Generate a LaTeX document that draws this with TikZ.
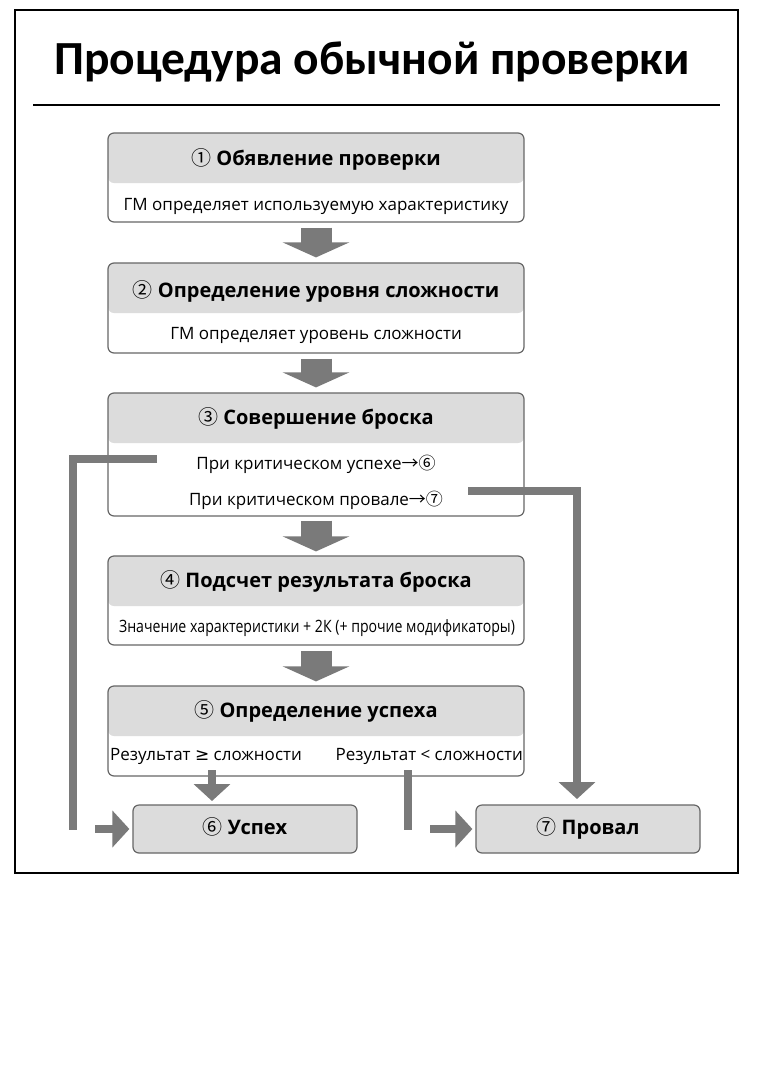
\documentclass[tikz,border=0pt]{standalone}
\usepackage{fontspec}
\setmainfont{Open Sans}
\newfontfamily\titlefont{Carlito}
\newfontfamily\symfont{Noto Sans CJK JP}
\newfontfamily\mathsym{DejaVu Sans}
\usetikzlibrary{arrows.meta}

\definecolor{headgray}{HTML}{DCDCDC}
\definecolor{boxgray}{HTML}{666666}
\definecolor{arrowgray}{HTML}{7A7A7A}

\newcommand\cnum[1]{{\symfont\mdseries #1}}

\tikzset{
  stepbox/.style={draw=boxgray, line width=1.2pt, rounded corners=6pt,
    minimum width=416pt, minimum height=#1, inner sep=0pt,
    path picture={\fill[headgray] (path picture bounding box.north west)
      rectangle ([yshift=-50pt]path picture bounding box.north east);}},
  endbox/.style={draw=boxgray, line width=1.2pt, rounded corners=6pt, fill=headgray,
    minimum width=224pt, minimum height=48pt, inner sep=0pt,
    text height=15pt, text depth=5pt,
    font=\fontsize{20}{24}\selectfont\bfseries},
  headtext/.style={font=\fontsize{20}{24}\selectfont\bfseries, inner sep=0pt},
  bodytext/.style={font=\fontsize{17}{20}\selectfont, inner sep=0pt},
  fatarrow/.style={draw=arrowgray, line width=31pt, -{Triangle[width=66pt,length=15pt]}},
  link/.style={draw=arrowgray, line width=8pt, line join=miter},
  linkarrow/.style={link, -{Triangle[width=36pt,length=17pt]}}
}

\begin{document}
\begin{tikzpicture}[x=1pt,y=-1pt]
  \fill[white] (0,0) rectangle (764,1080);
  \useasboundingbox (0,0) rectangle (764,1080);

  % frame and title
  \draw[line width=1.5pt] (15,10) rectangle (738,873);
  \node[font=\titlefont\fontsize{47.5}{52}\selectfont\bfseries, inner sep=0pt] (title) at (372,62) {Процедура обычной проверки};
  \draw[line width=1.5pt] (33,105) -- (720,105);

  % steps
  \node[stepbox=89pt] (b1) at (316,177.5) {};
  \node[stepbox=90pt] (b2) at (316,308) {};
  \node[stepbox=123pt] (b3) at (316,454.5) {};
  \node[stepbox=89pt] (b4) at (316,600.5) {};
  \node[stepbox=90pt] (b5) at (316,731) {};

  \node[headtext] (h1) at (316,159) {\cnum{①} Обявление проверки};
  \node[bodytext] (t1) at (316,206) {ГМ определяет используемую характеристику};
  \node[headtext] (h2) at (316,291) {\cnum{②} Определение уровня сложности};
  \node[bodytext] (t2) at (316,335) {ГМ определяет уровень сложности};
  \node[headtext] (h3) at (316,418) {\cnum{③} Совершение броска};
  \node[bodytext] (t3a) at (316,464) {При критическом успехе\cnum{→⑥}};
  \node[bodytext] (t3b) at (316,500) {При критическом провале\cnum{→⑦}};
  \node[headtext] (h4) at (316,581) {\cnum{④} Подсчет результата броска};
  \node[bodytext] (t4) at (317,628) {\scalebox{0.83}[1]{Значение характеристики + 2К (+ прочие модификаторы)}};
  \node[headtext] (h5) at (316,711) {\cnum{⑤} Определение успеха};
  \node[bodytext, anchor=west] (t5a) at (110,756) {Результат {\mathsym ≥} сложности};
  \node[bodytext, anchor=east] (t5b) at (523,756) {Результат < сложности};

  % results
  \node[endbox] (b6) at (245,829) {\cnum{⑥} Успех};
  \node[endbox] (b7) at (588,829) {\cnum{⑦} Провал};

  % arrows between steps
  \draw[fatarrow] ([yshift=-5pt]b1.south) -- ([yshift=5pt]b2.north);
  \draw[fatarrow] ([yshift=-5pt]b2.south) -- ([yshift=5pt]b3.north);
  \draw[fatarrow] ([yshift=-4pt]b3.south) -- ([yshift=4pt]b4.north);
  \draw[fatarrow] ([yshift=-5pt]b4.south) -- ([yshift=4pt]b5.north);

  % critical success / failure
  \coordinate (c6) at (157,459);
  \coordinate (c7) at (468,491);
  \draw[link] (c6) -- (73,459) -- (73,830);
  \coordinate (a6) at (95,829);
  \draw[linkarrow] (a6) -- ([xshift=-3pt]b6.west);
  \draw[linkarrow] (c7) -- (577,491) -- (577,799);

  % success / failure
  \coordinate (r6) at (212,770);
  \draw[linkarrow] (r6) -- (212,801);
  \coordinate (r7) at (408,770);
  \draw[link] (r7) -- (408,830);
  \coordinate (a7) at (430,829);
  \draw[linkarrow] (a7) -- ([xshift=-3pt]b7.west);
\end{tikzpicture}
\end{document}
